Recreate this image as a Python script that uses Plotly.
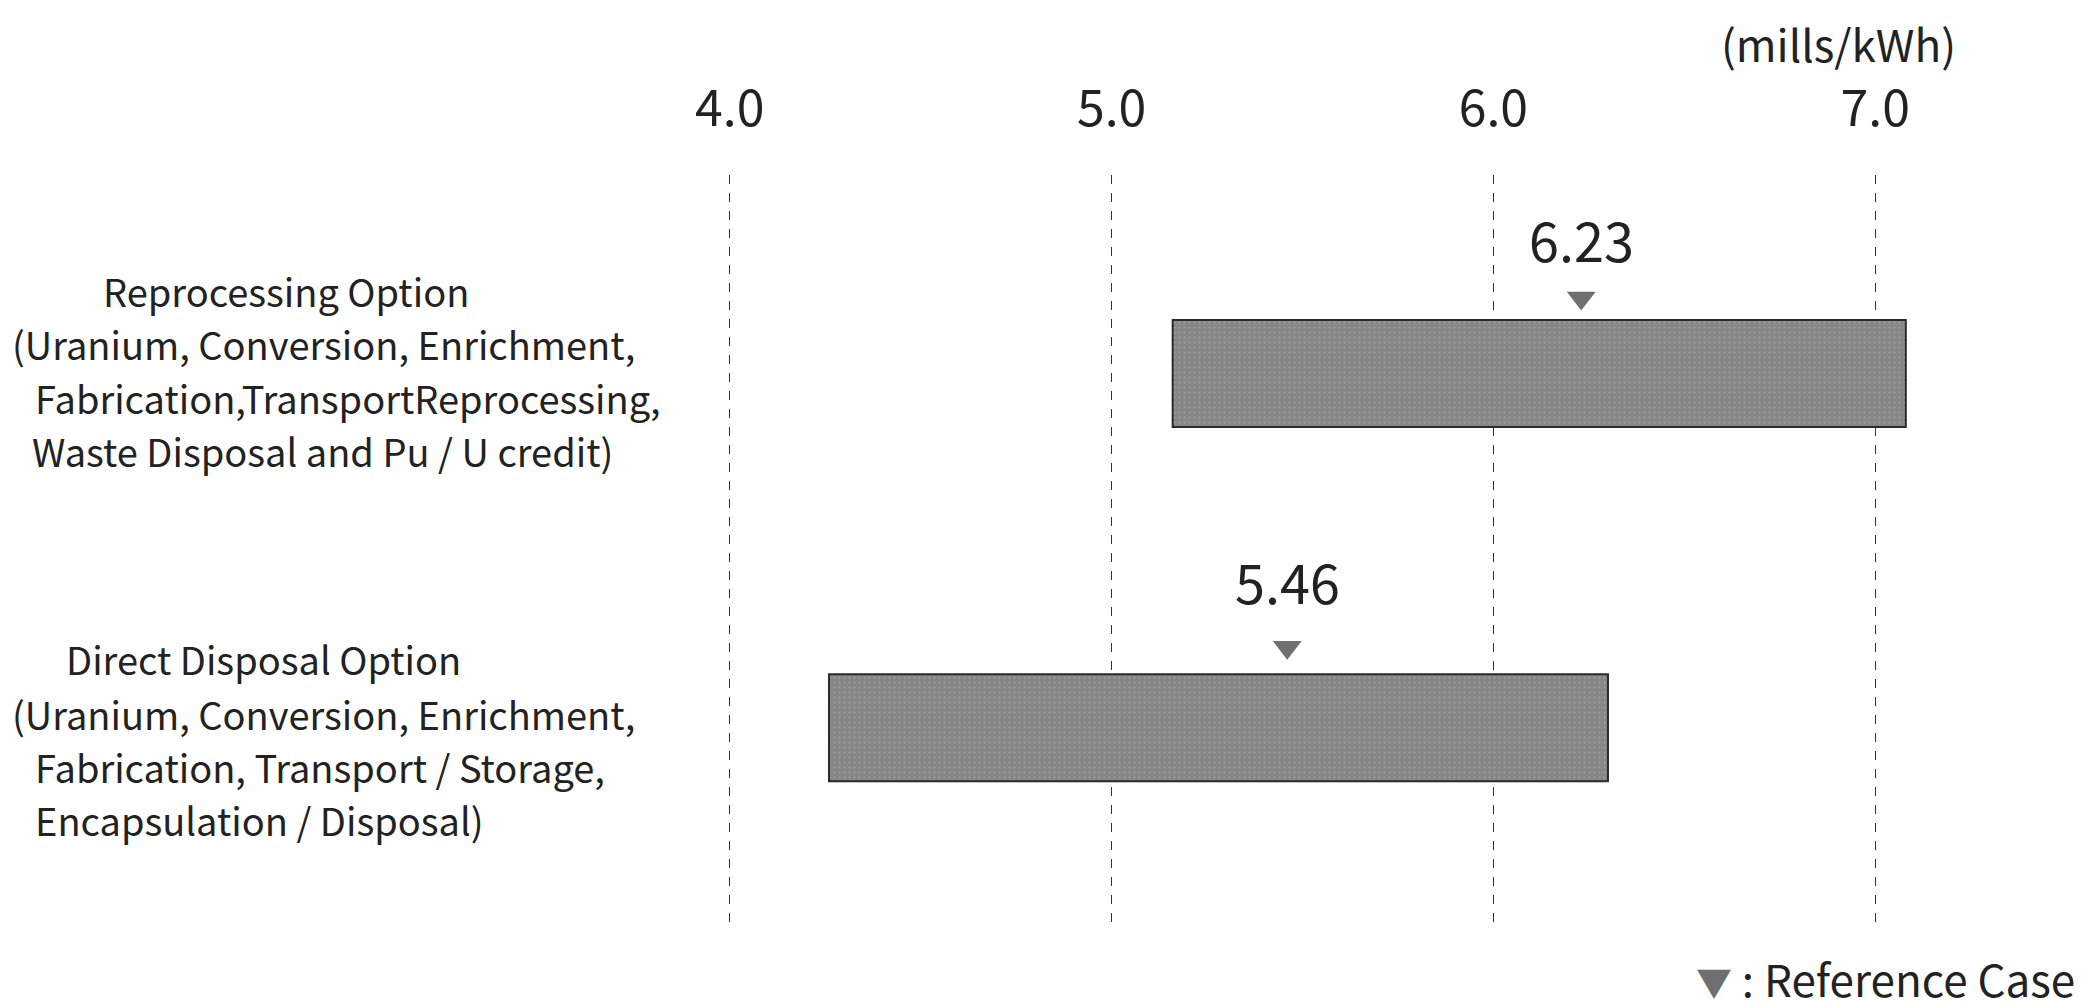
import plotly.graph_objects as go

# data
options = ["Direct Disposal Option", "Reprocessing Option"]
option_pos = [0, 1]
cost_low = [4.26, 5.16]
cost_high = [6.30, 7.08]
reference_case = [5.46, 6.23]
tick_vals = [4.0, 5.0, 6.0, 7.0]
tick_text = ["4.0", "5.0", "6.0", "7.0"]

direct_lines = ["Direct Disposal Option",
                "(Uranium, Conversion, Enrichment,",
                "Fabrication, Transport / Storage,",
                "Encapsulation / Disposal)"]
reprocessing_lines = ["Reprocessing Option",
                      "(Uranium, Conversion, Enrichment,",
                      "Fabrication,TransportReprocessing,",
                      "Waste Disposal and Pu / U credit)"]

FONT = "Noto Sans CJK JP"
plot_left = 569
plot_right = 70

fig = go.Figure()

fig.add_trace(go.Bar(
    y=option_pos,
    x=[h - l for l, h in zip(cost_low, cost_high)],
    base=cost_low,
    orientation="h",
    width=0.302,
    marker=dict(color="#868686", line=dict(color="#2a2a2a", width=2),
                pattern=dict(shape=".", fgcolor="#b8b8b8", size=5, solidity=0.15,
                             fillmode="overlay")),
    showlegend=False,
))

tri_off = [0.227, 0.213]
fig.add_trace(go.Scatter(
    x=reference_case,
    y=[p + o for p, o in zip(option_pos, tri_off)],
    mode="markers",
    marker=dict(symbol="triangle-down", size=25, color="#6f6f6f"),
    showlegend=False,
))

# value labels above the triangles
label_off = [147, 135]
for p, v, o in zip(option_pos, reference_case, label_off):
    fig.add_annotation(x=v, y=p, xref="x", yref="y", text=f"{v:.2f}",
                       showarrow=False, yshift=o,
                       font=dict(family=FONT, size=54, color="#222"))

# left-hand option descriptions
label_x = [[56, 2, 25, 25], [93, 2, 25, 22]]
label_dy = [[69, 14, -39, -92], [83, 30, -24, -77]]
for p, lines, xs, dys in zip(option_pos, [direct_lines, reprocessing_lines], label_x, label_dy):
    for line, lx, dy in zip(lines, xs, dys):
        fig.add_annotation(x=0, y=p, xref="paper", yref="y", text=line,
                           xanchor="left", yanchor="middle", showarrow=False,
                           xshift=lx - plot_left, yshift=dy,
                           font=dict(family=FONT, size=38, color="#222"))

fig.add_annotation(x=1, y=1, xref="paper", yref="paper", text="(mills/kWh)",
                   xanchor="right", yanchor="middle", showarrow=False,
                   xshift=-70, yshift=132,
                   font=dict(family=FONT, size=44, color="#222"))

fig.add_annotation(x=1, y=0, xref="paper", yref="paper",
                   text="<span style='color:#6f6f6f;font-size:36px'>▼</span> : Reference Case",
                   xanchor="right", yanchor="middle", showarrow=False,
                   xshift=49, yshift=-50,
                   font=dict(family=FONT, size=44, color="#222"))

fig.update_xaxes(range=[3.6, 7.4], side="top", tickvals=tick_vals, ticktext=tick_text,
                 showgrid=True, griddash="dash", gridcolor="#333", gridwidth=1,
                 zeroline=False, showline=False, ticks="", ticklabelstandoff=38,
                 tickfont=dict(family=FONT, size=50, color="#222"))
fig.update_yaxes(range=[-0.565, 1.560], visible=False)

fig.update_layout(width=2090, height=1008,
                  margin=dict(l=plot_left, r=plot_right, t=167, b=88),
                  plot_bgcolor="white", paper_bgcolor="white")

fig.write_html("out.html")
